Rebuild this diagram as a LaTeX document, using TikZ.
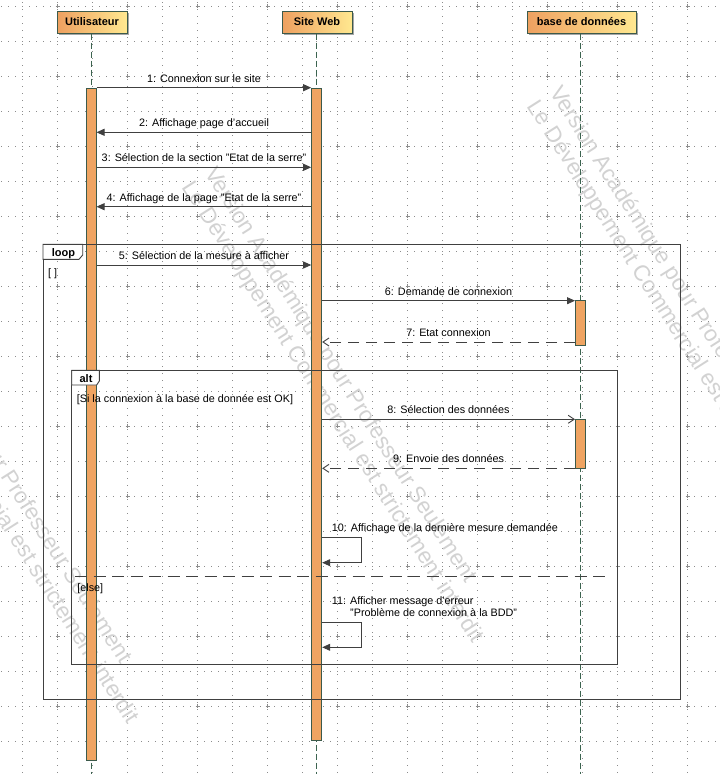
\documentclass[tikz,border=0pt]{standalone}
\usepackage{fontspec}
\setmainfont{Liberation Sans}
\usetikzlibrary{arrows.meta,shadows}
\definecolor{lifec}{RGB}{60,100,80}
\definecolor{barfill}{RGB}{239,164,98}
\definecolor{barline}{RGB}{60,90,75}
\definecolor{hl}{RGB}{238,160,96}
\definecolor{hr}{RGB}{255,232,144}
\definecolor{linec}{RGB}{64,64,64}
\definecolor{gridc}{RGB}{140,140,140}
\definecolor{wmc}{RGB}{210,210,210}
\begin{document}
\begin{tikzpicture}[x=1pt,y=-1pt,
  header/.style={draw=barline, line width=1pt, left color=hl, right color=hr,
    minimum width=#1, minimum height=22pt, inner sep=0pt,
    font=\fontsize{11}{13}\selectfont\bfseries,
    drop shadow={shadow xshift=2pt, shadow yshift=-2pt, fill=gray!70, opacity=1}},
  actbar/.style={draw=barline, fill=barfill, line width=1pt, minimum width=10pt,
    minimum height=#1, inner sep=0pt},
  lifeline/.style={draw=lifec, line width=0.9pt, dash pattern=on 6pt off 3pt},
  msg/.style={draw=linec, line width=0.9pt, -{Triangle[length=8pt,width=7pt]}},
  omsg/.style={draw=linec, line width=0.9pt, -{Straight Barb[length=6pt,width=8pt]}},
  rmsg/.style={draw=linec, line width=0.9pt, dash pattern=on 11pt off 7pt, -{Straight Barb[length=6pt,width=8pt]}},
  lbl/.style={font=\fontsize{10.8}{12.4}\selectfont, inner sep=0pt, anchor=base},
  lbll/.style={font=\fontsize{10.8}{12.4}\selectfont, inner sep=0pt, anchor=base west},
  frame/.style={draw=linec, line width=0.9pt},
  tab/.style={font=\fontsize{11}{13}\selectfont\bfseries, inner sep=0pt, anchor=base},
  wm/.style={font=\fontsize{22.5}{27}\selectfont, text=wmc, inner sep=0pt, anchor=base west, rotate=-57.5},
  gridline/.style={draw=gridc, line width=0.8pt, dash pattern=on 1pt off 6pt}
]
\useasboundingbox (0,0) rectangle (720,774);
\fill[white] (0,0) rectangle (720,774);
% grid
\begin{scope}
\clip (0,0) rectangle (720,774);
\foreach \x in {22.5,57.5,...,720} \draw[gridline] (\x,2) -- (\x,774);
\foreach \y in {6,41,...,774} \draw[gridline] (1,\y) -- (720,\y);
\foreach \x in {57.5,127.5,...,720} \foreach \y in {6,76,...,774}
  \draw[gridc, line width=0.8pt] (\x-2,\y) -- (\x+2,\y) (\x,\y-2) -- (\x,\y+2);
\end{scope}
% watermark
\node[wm] (w1a) at (549,92) {Version Académique pour Professeur Seulement};
\node[wm] (w1b) at (526.7,106.2) {Le Développement Commercial est strictement interdit};
\node[wm] (w2a) at (204,173) {Version Académique pour Professeur Seulement};
\node[wm] (w2b) at (181.7,187.2) {Le Développement Commercial est strictement interdit};
\node[wm] (w3a) at (-141,254) {Version Académique pour Professeur Seulement};
\node[wm] (w3b) at (-163.3,268.2) {Le Développement Commercial est strictement interdit};
% headers
\node[header=70pt] (uH) at (92,22) {Utilisateur};
\node[header=70pt] (sH) at (317,22) {Site Web};
\node[header=109pt] (dH) at (581.5,22) {base de données};
% lifelines
\coordinate (uEnd) at (91,774);
\coordinate (sEnd) at (316.7,774);
\coordinate (dEnd) at (580.5,774);
\draw[lifeline] (uH.south -| uEnd) -- (uEnd);
\draw[lifeline] (sH.south -| sEnd) -- (sEnd);
\draw[lifeline] (dH.south -| dEnd) -- (dEnd);
% activation bars
\node[actbar=672pt] (uA) at (91,424) {};
\node[actbar=652pt] (sA) at (316.7,414) {};
\node[actbar=44.3pt] (dA1) at (580.5,322.9) {};
\node[actbar=48.7pt] (dA2) at (580.5,443.7) {};
% frames
\draw[frame] (43,244.3) rectangle (680,699.3);
\draw[frame, fill=white] (43,244.3) -- (82.7,244.3) -- (82.7,255) -- (79,259.3) -- (43,259.3) -- cycle;
\node[tab] (loopT) at (63.5,256.5) {loop};
\node[lbll] (loopG) at (48,276) {[ ]};
\draw[frame] (71.7,370.3) rectangle (617.3,664);
\draw[frame, fill=white] (71.7,370.3) -- (99.3,370.3) -- (99.3,381) -- (96.7,385) -- (71.7,385) -- cycle;
\node[tab] (altT) at (86,382.5) {alt};
\node[lbll] (altG1) at (76.7,402.7) {[Si la connexion à la base de donnée est OK]};
\draw[frame, dash pattern=on 12pt off 6.5pt] (75,576) -- (609,576);
\node[lbll] (altG2) at (77.2,591.5) {[else]};
% messages
\draw[msg] (uA.east |- 0,87.7) -- (sA.west |- 0,87.7);
\node[lbl] (l1) at (204,82.2) {1: Connexion sur le site};
\draw[msg] (sA.west |- 0,132.3) -- (uA.east |- 0,132.3);
\node[lbl] (l2) at (204,126.8) {2: Affichage page d'accueil};
\draw[msg] (uA.east |- 0,167.3) -- (sA.west |- 0,167.3);
\node[lbl] (l3) at (204,161.8) {3: Sélection de la section "Etat de la serre"};
\draw[msg] (sA.west |- 0,206.7) -- (uA.east |- 0,206.7);
\node[lbl] (l4) at (204,201.2) {4: Affichage de la page "Etat de la serre"};
\draw[msg] (uA.east |- 0,265) -- (sA.west |- 0,265);
\node[lbl] (l5) at (204,259.5) {5: Sélection de la mesure à afficher};
\draw[msg] (sA.east |- 0,300.7) -- (dA1.west |- 0,300.7);
\node[lbl] (l6) at (448.5,295.2) {6: Demande de connexion};
\draw[rmsg] (dA1.west |- 0,342) -- (sA.east |- 0,342);
\node[lbl] (l7) at (448.5,336.5) {7: Etat connexion};
\draw[omsg] (sA.east |- 0,419.3) -- (dA2.west |- 0,419.3);
\node[lbl] (l8) at (448.5,413.8) {8: Sélection des données};
\draw[rmsg] (dA2.west |- 0,468.3) -- (sA.east |- 0,468.3);
\node[lbl] (l9) at (448.5,462.8) {9: Envoie des données};
\draw[msg] (sA.east |- 0,537.3) -- (361.7,537.3) -- (361.7,562.7) -- (sA.east |- 0,562.7);
\node[lbll] (l10) at (331.7,531.7) {10: Affichage de la dernière mesure demandée};
\draw[msg] (sA.east |- 0,622.3) -- (361.7,622.3) -- (361.7,647.3) -- (sA.east |- 0,647.3);
\node[lbll] (l11a) at (331.7,604.3) {11: Afficher message d'erreur};
\node[lbll] (l11b) at (350,616.7) {"Problème de connexion à la BDD"};
\end{tikzpicture}
\end{document}
